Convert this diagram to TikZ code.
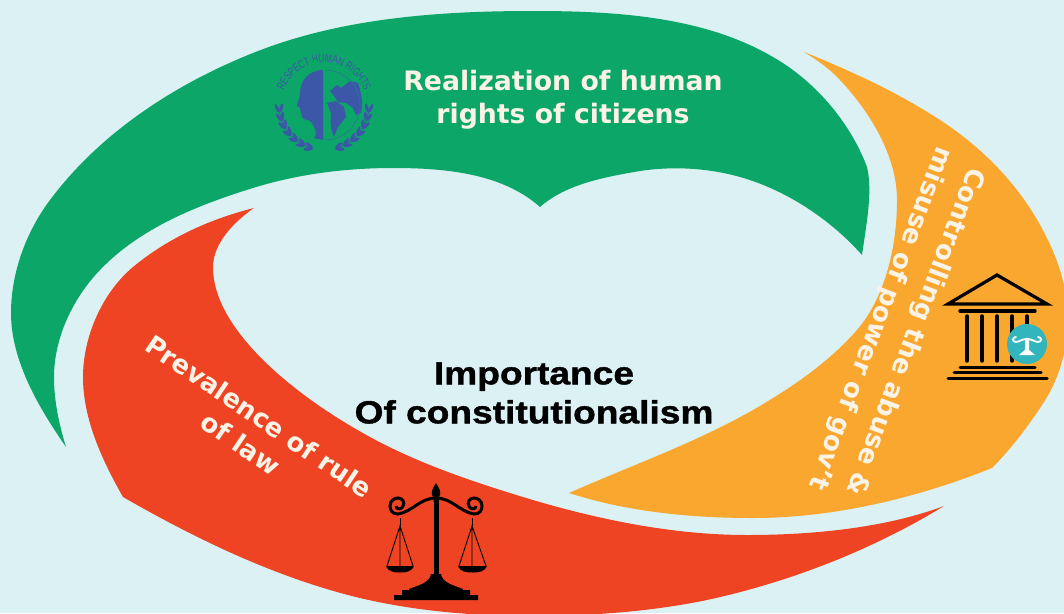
\documentclass[tikz,border=0pt]{standalone}
\usepackage{fontspec}
\usetikzlibrary{decorations.text}
\setmainfont{DejaVu Sans}
\newfontfamily\ttlfont[FakeStretch=1.16,FakeBold=1.2]{Liberation Sans Bold}
\newfontfamily\embfont[FakeStretch=.72]{Liberation Sans}
\definecolor{bgc}{HTML}{DCF1F4}
\definecolor{greenc}{HTML}{0CA768}
\definecolor{redc}{HTML}{EE4423}
\definecolor{orangec}{HTML}{F9A72F}
\definecolor{bluec}{HTML}{3D57A8}
\definecolor{tealc}{HTML}{33B5BE}
\definecolor{labc}{HTML}{FBF3E6}
\tikzset{
 lab/.style 2 args={font=\bfseries\fontsize{#1}{#2}\selectfont,text=labc,align=center,inner sep=0pt},
 ttl/.style={font=\ttlfont\fontsize{32}{39}\selectfont,text=black,align=center,inner sep=0pt},
 ico/.style={black,line width=#1,line cap=round},
}
\begin{document}
\begin{tikzpicture}[x=1pt,y=-1pt]
\useasboundingbox (0,0) rectangle (1064,613);
\fill[bgc] (0,0) rectangle (1064,613);
% bands
\begin{scope}
\clip (0,0) rectangle (1064,613);
\fill[greenc] (66,447) .. controls (39,408) and (11,361) .. (11,313)
 .. controls (11,273) and (26,232) .. (50,200)
 .. controls (100,133) and (175,84) .. (253,53)
 .. controls (340,18) and (439,11) .. (533,11)
 .. controls (614,11) and (703,16) .. (773,57)
 .. controls (815,81) and (850,122) .. (867,167)
 .. controls (873,192) and (866,226) .. (862,255)
 .. controls (830,219) and (786,190) .. (740,177)
 .. controls (708,168) and (673,166) .. (640,171)
 .. controls (605,177) and (566,184) .. (540,207)
 .. controls (502,173) and (444,168) .. (393,168)
 .. controls (346,168) and (298,174) .. (253,188)
 .. controls (198,205) and (140,228) .. (100,270)
 .. controls (73,298) and (54,338) .. (54,377)
 .. controls (54,401) and (59,424) .. (66,447) -- cycle;
\fill[redc] (944,506) .. controls (872,550) and (790,582) .. (707,600)
 .. controls (649,612) and (589,616) .. (530,616)
 .. controls (473,616) and (415,611) .. (360,598)
 .. controls (277,578) and (198,540) .. (123,497)
 .. controls (102,460) and (83,419) .. (83,377)
 .. controls (83,337) and (102,293) .. (133,267)
 .. controls (168,238) and (210,219) .. (254,208)
 .. controls (235,221) and (213,243) .. (213,267)
 .. controls (213,301) and (236,332) .. (260,357)
 .. controls (292,389) and (330,415) .. (370,437)
 .. controls (414,461) and (462,478) .. (510,493)
 .. controls (586,517) and (667,535) .. (747,535)
 .. controls (813,535) and (885,528) .. (944,506) -- cycle;
\fill[orangec] (804,52) .. controls (851,71) and (897,92) .. (940,120)
 .. controls (977,144) and (1010,176) .. (1033,213)
 .. controls (1053,245) and (1068,282) .. (1068,320)
 .. controls (1068,348) and (1059,379) .. (1044,402)
 .. controls (1029,425) and (1012,448) .. (992,468)
 .. controls (917,498) and (834,518) .. (753,518)
 .. controls (691,518) and (628,512) .. (569,493)
 .. controls (630,466) and (695,443) .. (753,410)
 .. controls (791,388) and (828,363) .. (857,330)
 .. controls (886,296) and (897,245) .. (897,200)
 .. controls (897,156) and (870,112) .. (840,80)
 .. controls (830,69) and (817,60) .. (804,52) -- cycle;
\end{scope}
% human rights emblem
\begin{scope}[shift={(324,105)}]
\path[decorate,decoration={text along path,text align=center,
  text={|\embfont\fontsize{11.5}{11.5}\selectfont\color{bluec}|RESPECT HUMAN RIGHTS}}]
  (-41.6,-9.6) arc[start angle=-167,end angle=-13,radius=42.7];
\fill[bluec] (-1,-35) .. controls (-15,-35) and (-24,-24) .. (-24,-12)
 .. controls (-24,-7) and (-27,-2) .. (-27,1) -- (-24,3)
 .. controls (-23,10) and (-22,15) .. (-17,15)
 .. controls (-13,15) and (-12,18) .. (-9,24)
 .. controls (-8,28) and (-8,32) .. (-10,33) -- (-1,35) -- cycle;
\fill[bluec] (6,-14) -- (13,-20) -- (17,-17) -- (26,-24) -- (34,-22)
 .. controls (38,-10) and (39,0) .. (37,8) -- (32,10) -- (29,3) -- (22,-2) -- (14,-3) -- (10,-9) -- cycle;
\fill[bluec] (3,-2) -- (12,-4) -- (20,2) -- (22,12) -- (14,22) -- (10,32)
 .. controls (7,26) and (6,18) .. (7,8) -- cycle;
\draw[bluec!60!greenc,line width=.6pt] (1,-35) arc[start angle=-90,end angle=90,radius=35];
\foreach \s in {-1,1}{
 \begin{scope}[xscale=\s]
 \draw[bluec,line width=.8pt] ({45*cos(172)},{45*sin(172)}) arc[start angle=172,end angle=105,radius=45];
 \foreach \a in {176,165,154,143,132,121,110}{
  \fill[bluec,shift={({47*cos(\a)},{47*sin(\a)})},rotate=-\a+20] (0,0) ellipse[x radius=1.7,y radius=4.6];
  \fill[bluec,shift={({43*cos(\a)},{43*sin(\a)})},rotate=-\a-20] (0,0) ellipse[x radius=1.7,y radius=4.6];
 }
 \end{scope}
}
\end{scope}
% scales
\begin{scope}
\fill[black] (436,483) .. controls (433,488) and (431,491) .. (432,495) -- (434,498) -- (433.5,502) -- (438.5,502) -- (438,498) -- (440,495) .. controls (441,491) and (439,488) .. (436,483) -- cycle;
\fill[black] (433.5,498) -- (438.5,498) -- (438.5,574) -- (433.5,574) -- cycle;
\fill[black] (436,574) -- (431,574) .. controls (430,582) and (420,585) .. (409,589)
 -- (409,590) -- (402,590) -- (402,595) -- (394,595) -- (394,600) -- (478,600) -- (478,595) -- (470,595) -- (470,590) -- (463,590) -- (463,589)
 .. controls (452,585) and (442,582) .. (441,574) -- cycle;
\draw[ico=3pt] (436,498) .. controls (420,498) and (412,512) .. (398,514)
  .. controls (392,514) and (390,510) .. (390,506) .. controls (390,501) and (394,498) .. (398,498)
  .. controls (403,498) and (405,503) .. (403,506) .. controls (402,509) and (398,510) .. (396,507);
\draw[ico=3pt] (436,498) .. controls (452,498) and (460,512) .. (474,514)
  .. controls (480,514) and (482,510) .. (482,506) .. controls (482,501) and (478,498) .. (474,498)
  .. controls (469,498) and (467,503) .. (469,506) .. controls (470,509) and (474,510) .. (476,507);
\draw[black,line width=1pt] (400,518) -- (400,526) (472,518) -- (472,526);
\draw[black,line width=.9pt] (387,566) -- (400,526) -- (413,566) (400,526) -- (400,566);
\draw[black,line width=.9pt] (459,566) -- (472,526) -- (486,566) (472,526) -- (472,566);
\fill[black] (386,566) -- (414,566) .. controls (412,572) and (405,572.5) .. (400,572.5) .. controls (395,572.5) and (388,572) .. (386,566) -- cycle;
\fill[black] (458,566) -- (487,566) .. controls (485,572) and (478,572.5) .. (472.5,572.5) .. controls (467,572.5) and (460,572) .. (458,566) -- cycle;
\end{scope}
% temple
\draw[ico=3.2pt,line join=miter] (948,304) -- (997,275) -- (1047,304) -- cycle;
\draw[ico=3.4pt] (960,311) -- (1035,311);
\foreach \x in {967,982,997,1012,1027}{\draw[ico=3.4pt] (\x,316) -- (\x,361);}
\draw[ico=3pt] (960,367) -- (1035,367);
\draw[ico=3pt] (954,372.5) -- (1041,372.5);
\draw[ico=3pt] (948,378.5) -- (1047,378.5);
\fill[tealc] (1027,344) circle[radius=20];
\begin{scope}[shift={(1027,344)},white]
\fill (-2,-6) -- (2,-6) -- (2,6) -- (8,11) -- (-8,11) -- (-2,6) -- cycle;
\draw[line width=1.8pt,line cap=round] (0,-5) .. controls (-5,-5) and (-8,-2) .. (-11,-2) .. controls (-15,-2) and (-15,-7) .. (-11,-7);
\draw[line width=1.8pt,line cap=round] (0,-5) .. controls (5,-5) and (8,-2) .. (11,-2) .. controls (15,-2) and (15,-7) .. (11,-7);
\end{scope}
% texts
\node[lab={26.7}{33}] (t1) at (563,100) {Realization of human\\rights of citizens};
\node[lab={26}{37},rotate=-110.7] (t2) at (897,325) {Controlling the abuse \&\\misuse of power of gov't};
\node[lab={26}{33},rotate=-34] (t3) at (250,430) {Prevalence of rule\\of law};
\node[ttl] (t4) at (534,393) {Importance\\Of constitutionalism};
\end{tikzpicture}
\end{document}
